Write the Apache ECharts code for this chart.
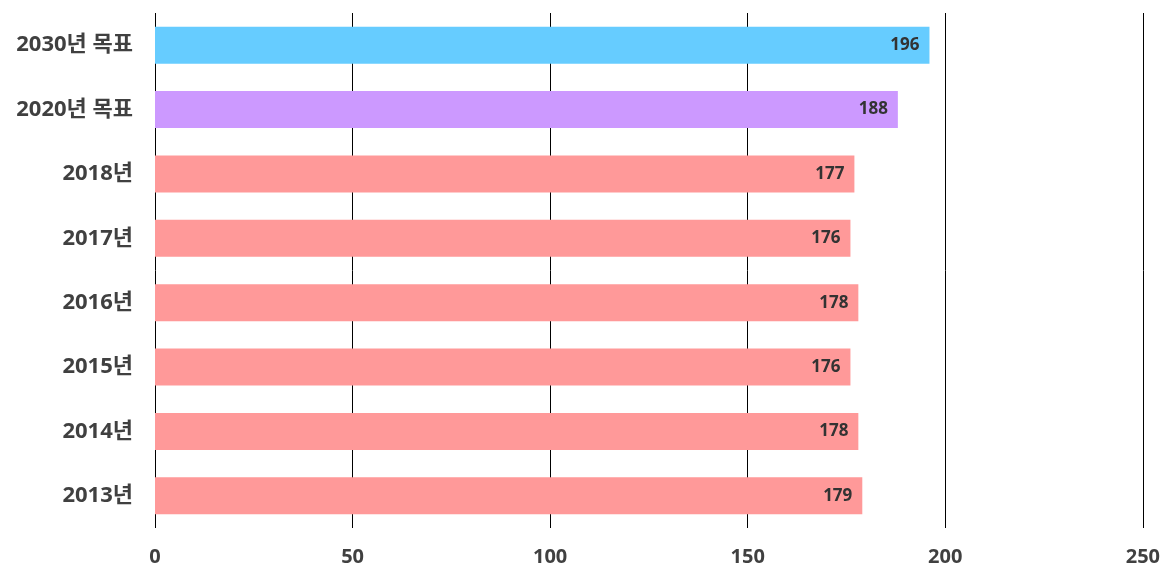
<!DOCTYPE html>
<html><head><meta charset="utf-8">
<script src="https://cdn.jsdelivr.net/npm/echarts@6/dist/echarts.min.js"></script>
<style>html,body{margin:0;padding:0;background:#fff}#c{width:1163px;height:569px}</style>
</head><body><div id="c"></div>
<script>
const categories = ['2013년','2014년','2015년','2016년','2017년','2018년','2020년 목표','2030년 목표'];
const values = [179,178,176,178,176,177,188,196];
const barColors = ['#FF9999','#FF9999','#FF9999','#FF9999','#FF9999','#FF9999','#CC99FF','#66CCFF'];
const xTicks = [0,50,100,150,200,250];

const chart = echarts.init(document.getElementById('c'));
const font = '"Open Sans","Noto Sans CJK KR",sans-serif';
chart.setOption({
  animation:false,
  grid:{left:155,right:18,top:13,bottom:41,containLabel:false},
  xAxis:{type:'value',min:xTicks[0],max:xTicks[xTicks.length-1],interval:50,
    axisLine:{show:false},axisTick:{show:false},
    splitLine:{show:true,lineStyle:{color:'#000',width:1}},
    axisLabel:{margin:19,color:'#404040',fontSize:20,fontWeight:'bold',fontFamily:font}},
  yAxis:{type:'category',data:categories,
    axisLine:{show:false},axisTick:{show:false},
    axisLabel:{margin:22,color:'#404040',fontSize:22,fontWeight:'bold',fontFamily:font}},
  series:[{type:'bar',barWidth:37,
    data:values.map((v,i)=>({value:v,itemStyle:{color:barColors[i]}})),
    label:{show:true,position:'insideRight',distance:10,color:'#333',fontSize:17,fontWeight:'bold',fontFamily:font}}]
});
</script></body></html>
